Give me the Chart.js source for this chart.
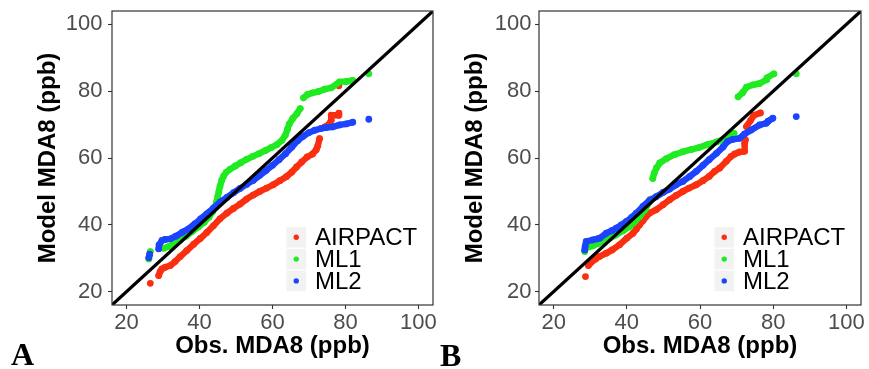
<!DOCTYPE html>
<html>
<head>
<meta charset="utf-8">
<script src="https://cdn.jsdelivr.net/npm/chart.js@4.4.1/dist/chart.umd.min.js"></script>
<style>
  html, body { margin:0; padding:0; background:#ffffff; }
  body { width:869px; height:369px; position:relative; overflow:hidden; }
  .wrap { position:absolute; top:0; height:369px; }
  .panel-label { position:absolute; font-family:'Liberation Serif','Times New Roman',serif; font-weight:bold; font-size:32px; line-height:32px; color:#000; }
</style>
</head>
<body>
<div class="wrap" style="left:0;width:437px;"><canvas id="cA" width="437" height="369"></canvas></div>
<div class="wrap" style="left:430px;width:439px;"><canvas id="cB" width="439" height="369"></canvas></div>
<div class="panel-label" style="left:11px;top:338px;">A</div>
<div class="panel-label" style="left:440px;top:339px;">B</div>
<script>
// ---------------- DATA ----------------
const tickValues = [20, 40, 60, 80, 100];
const seriesNames = ['AIRPACT', 'ML1', 'ML2'];
const seriesColors = ['#FA2F10', '#20EA20', '#1C44FF'];
const identityLine = [[0, 0], [120, 120]];

// Panel A (x = observed quantile, y = model quantile)
const panelA_AIRPACT = [[26.5,22.5],[28.8,24.8],[29.2,26],[29.7,26.8],[30.6,27.3],[32,27.8],[33.3,29],[34.7,30.5],[36.5,32.3],[38.4,34.2],[40.2,35.9],[42,37.7],[43.8,39.7],[45.6,41.8],[47.5,43.5],[49.3,44.9],[51.1,46.2],[52.9,47.7],[54.7,48.9],[56.5,50],[58.4,51],[60.2,52],[62,53.2],[63.8,54.4],[65.3,55.8],[66.6,57.3],[68,58.8],[69.5,60.3],[71,61.2],[72,62.5],[72.4,63.6],[72.9,65.8],[74.3,69.3],[75.4,70],[76.1,71.3],[76.1,72.8],[78.2,72.8],[78.2,73.4],[78.2,81.6]];
const panelA_ML1 = [[26.1,29.8],[26.5,32],[30.2,33],[31.5,33.5],[32.9,34.3],[34.6,35.4],[36.3,36.6],[38,38],[39.7,39.4],[41.3,40.8],[42.6,42.3],[43.6,44],[44.3,45.5],[44.7,47],[45,48.5],[45.3,50],[45.6,51.5],[46.1,53.4],[46.6,54.6],[47.3,55.7],[48.3,56.6],[49.8,57.6],[51.3,58.6],[52.9,59.6],[54.6,60.5],[56.3,61.3],[58,62.2],[59.6,63.1],[61.2,64],[62.6,65.3],[63.5,66.8],[64.1,68.6],[64.6,70.2],[65.6,71.9],[66.7,73.3],[67.6,74.8],[68.5,78],[69.6,79],[71,79.5],[72.6,79.9],[74.3,80.6],[76.1,81],[78.4,82.8],[80.2,82.9],[82,83.2],[86.4,85.2]];
const panelA_ML2 = [[26.1,30.2],[26.3,31.2],[28.8,32.8],[28.9,34],[29.7,35.3],[30.5,35.6],[32,35.8],[33.5,36.6],[35.3,37.8],[37,38.8],[38.7,40.3],[40.3,41.8],[42,43.3],[43.8,45],[45.6,46.8],[47.5,48.2],[49.3,49.6],[51.1,50.9],[52.9,52.1],[54.7,53.3],[56.5,54.8],[58.3,56.3],[60,57.8],[61.8,59.5],[63.6,61.3],[65.3,63.3],[66.9,65.2],[68.4,66.5],[70,67.6],[71.6,68.3],[73.2,68.8],[74.8,69.1],[76.5,69.3],[78.4,69.9],[80.2,70.2],[82,70.7],[86.4,71.6]];

// Panel B
const panelB_AIRPACT = [[28.7,24.5],[29.5,27.8],[30,28.5],[31.5,29.8],[32.5,30.5],[34.4,31.5],[36,32.5],[38,34],[40,36],[41.7,37.5],[42.6,38.7],[43.5,40],[44.4,41.2],[45.3,42.5],[46.2,43.5],[48,44.5],[49.9,46],[51.7,47.5],[53.5,48.8],[55.3,50],[57,51],[59,52],[60.8,53.2],[62.5,54.5],[64,56],[65.4,57],[67.2,59],[68.5,60.5],[69.5,61.2],[70.8,61.8],[72.2,62],[72.2,64.4],[72.4,65.4],[72.7,69.4],[73.8,71.2],[74.7,72.8],[76.5,73.5]];
const panelB_ML1 = [[28.5,32],[28.7,33],[30.7,33.7],[32,34.3],[33.5,35],[35.3,36],[37.1,37],[39,38.2],[40.8,39.5],[42.2,41],[43.5,42.5],[45,44.5],[46.2,47],[46.5,47.7],[47.1,53.9],[47.5,55.5],[48.1,57],[49,58.5],[50.8,59.8],[53,61],[55.3,61.9],[57.5,62.5],[59.9,63.2],[62,64],[64.5,64.8],[66.5,65.6],[68.1,66.5],[69.3,67.4],[70.4,78.3],[71.7,79.6],[72.7,81.2],[74.5,81.9],[76.3,82.3],[78.1,83.4],[78.3,84],[80.2,85.2],[86.3,85.2]];
const panelB_ML2 = [[28.5,32.5],[28.6,33.5],[28.9,35],[30.7,35.5],[31.9,35.8],[32.6,36],[34.4,37.5],[36,38.3],[37.1,39],[38.5,40],[39.9,41],[41.3,42.2],[42.6,43.5],[44.4,45.5],[46.2,47.3],[48,48.4],[49.9,49.7],[51.7,50.7],[53.5,52],[55.3,53],[57.2,54.5],[59,56],[60.8,57.8],[62.5,59.5],[64.5,61.4],[66.3,63.3],[67.6,65],[69,65.6],[70.8,65.9],[72.2,67.2],[74,68.4],[76.3,69.9],[78.1,70.4],[78.6,71],[79.9,71.9],[86.3,72.4]];

// ---------------- CHART ----------------
const FONT = "'Liberation Sans', Arial, Helvetica, sans-serif";
const toXY = arr => arr.map(p => ({ x: p[0], y: p[1] }));

const gapSegment = {
  borderColor: ctx => {
    const dx = ctx.p1.x - ctx.p0.x, dy = ctx.p1.y - ctx.p0.y;
    return Math.sqrt(dx * dx + dy * dy) > 10.5 ? 'rgba(0,0,0,0)' : undefined;
  }
};

function seriesDataset(values, idx) {
  return {
    label: seriesNames[idx],
    data: toXY(values),
    showLine: true,
    borderColor: seriesColors[idx],
    borderWidth: 6.4,
    borderCapStyle: 'round',
    borderJoinStyle: 'round',
    backgroundColor: seriesColors[idx],
    pointBackgroundColor: seriesColors[idx],
    pointBorderWidth: 0,
    pointRadius: 3.4,
    tension: 0,
    segment: gapSegment
  };
}

const panelExtras = {
  id: 'panelExtras',
  afterDraw(chart) {
    const { ctx, chartArea: a } = chart;
    ctx.save();
    ctx.strokeStyle = '#333333';
    ctx.lineWidth = 1.2;
    ctx.strokeRect(a.left, a.top, a.right - a.left, a.bottom - a.top);
    const keyLeft = a.right - 146.5, keyW = 19.5, keyH = 20.6, step = 21.8;
    const top0 = a.bottom - 78;
    seriesNames.forEach((name, i) => {
      const t = top0 + i * step;
      ctx.fillStyle = '#F2F2F2';
      ctx.fillRect(keyLeft, t, keyW, keyH);
      ctx.fillStyle = seriesColors[i];
      ctx.beginPath();
      ctx.arc(keyLeft + keyW / 2, t + keyH / 2, 2.7, 0, Math.PI * 2);
      ctx.fill();
      ctx.fillStyle = '#000000';
      ctx.font = '24px ' + FONT;
      ctx.textBaseline = 'middle';
      ctx.textAlign = 'left';
      ctx.fillText(name, a.right - 118, t + keyH / 2 + 1);
    });
    ctx.restore();
  }
};

function makeChart(id, series, lay) {
  const datasets = [
    {
      label: 'y = x',
      data: toXY(identityLine),
      showLine: true,
      borderColor: '#000000',
      borderWidth: 3.2,
      pointRadius: 0,
      clip: 0
    },
    seriesDataset(series[2], 2),
    seriesDataset(series[1], 1),
    seriesDataset(series[0], 0)
  ];
  const axisCommon = {
    type: 'linear', min: 16, max: 104,
    afterBuildTicks: s => { s.ticks = tickValues.map(v => ({ value: v })); },
    grid: { display: true, drawOnChartArea: false, drawTicks: true, tickLength: 4, color: '#333333', tickColor: '#333333', tickWidth: 1.1 },
    border: { display: false }
  };
  return new Chart(document.getElementById(id), {
    type: 'scatter',
    data: { datasets },
    options: {
      responsive: false,
      animation: false,
      devicePixelRatio: 1,
      events: [],
      layout: { padding: { left: 0, right: lay.padRight, top: 11, bottom: 0 } },
      plugins: { legend: { display: false }, tooltip: { enabled: false } },
      scales: {
        x: Object.assign({}, axisCommon, {
          position: 'bottom',
          afterFit: s => { s.height = 64; s.paddingLeft = 0; s.paddingRight = 0; },
          ticks: { color: '#4D4D4D', font: { size: 22, family: FONT }, padding: 1, maxRotation: 0, autoSkip: false },
          title: { display: true, text: 'Obs. MDA8 (ppb)', color: '#000000', font: { size: 24, weight: 'bold', family: FONT }, padding: { top: 0, bottom: 8 } }
        }),
        y: Object.assign({}, axisCommon, {
          position: 'left',
          afterFit: s => { s.width = lay.yWidth; s.paddingTop = 0; s.paddingBottom = 0; },
          ticks: { color: '#4D4D4D', font: { size: 22, family: FONT }, padding: lay.yTickPad, autoSkip: false },
          title: { display: true, text: 'Model MDA8 (ppb)', color: '#000000', font: { size: 24, weight: 'bold', family: FONT }, padding: { top: lay.yWidth - 64 - 14.4, bottom: 0 } }
        })
      }
    },
    plugins: [panelExtras]
  });
}

makeChart('cA', [panelA_AIRPACT, panelA_ML1, panelA_ML2], { yWidth: 112, padRight: 4, yTickPad: 5.5 });
makeChart('cB', [panelB_AIRPACT, panelB_ML1, panelB_ML2], { yWidth: 109, padRight: 8, yTickPad: 3.5 });
</script>
</body>
</html>
